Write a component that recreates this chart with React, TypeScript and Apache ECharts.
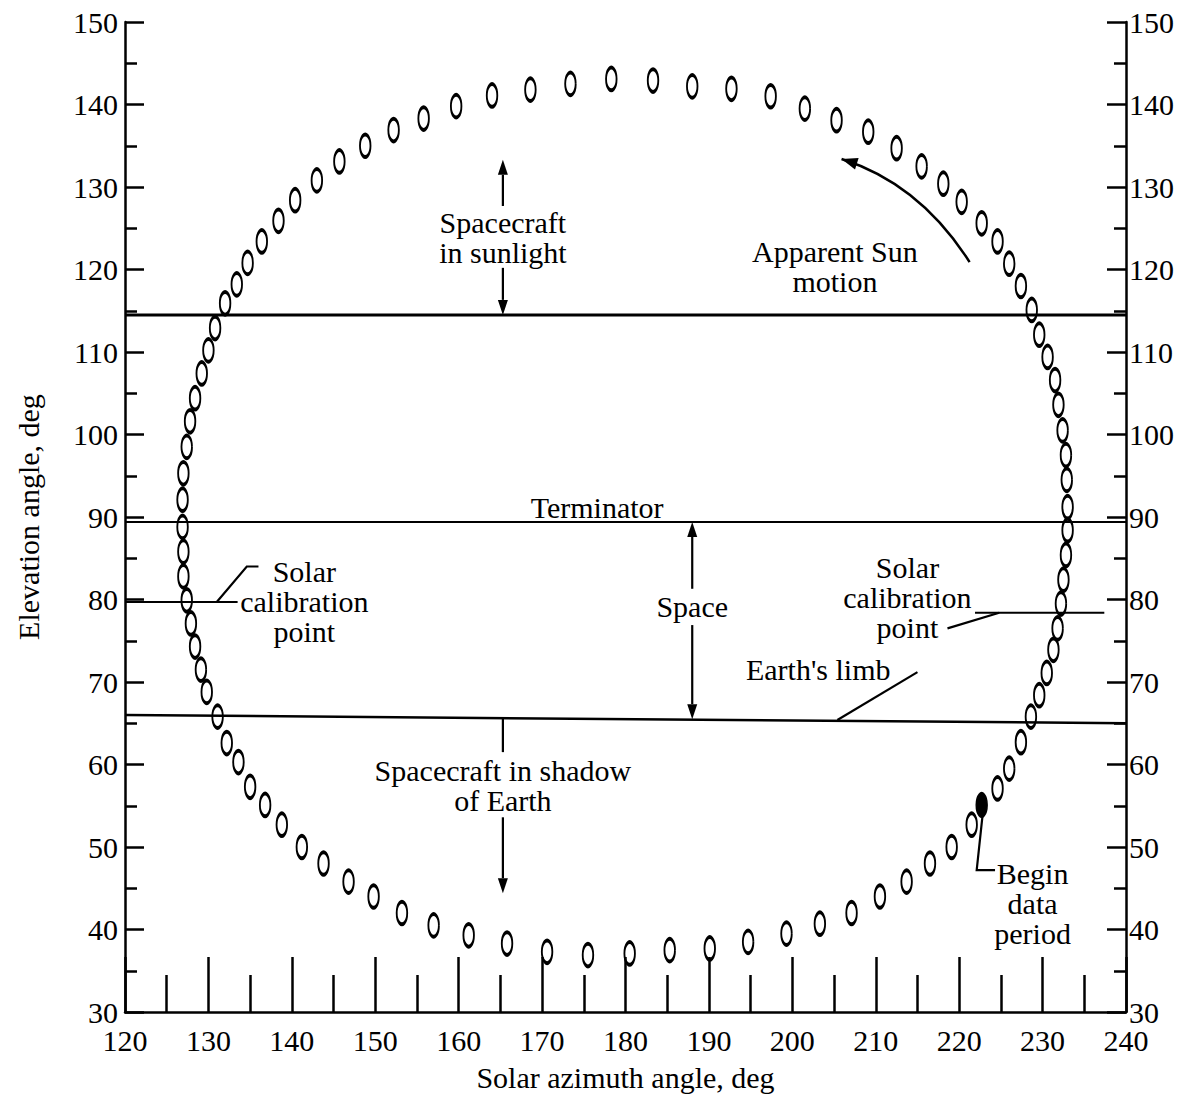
import React, { useEffect, useRef } from "react";
import * as echarts from "echarts";

// Sun image positions (solar azimuth, elevation), deg, in order of apparent motion
const azimuth = [
  224.6, 226.0, 227.4, 228.6, 229.6, 230.5, 231.3, 231.8, 232.2, 232.5,
  232.8, 233.0, 233.0, 232.9, 232.8, 232.4, 231.9, 231.5, 230.6, 229.6,
  228.7, 227.4, 226.0, 224.6, 222.7, 220.3, 218.1, 215.5, 212.5, 209.1,
  205.3, 201.5, 197.4, 192.7, 188.0, 183.3, 178.3, 173.4, 168.6, 164.0,
  159.7, 155.8, 152.2, 148.8, 145.7, 143.0, 140.4, 138.4, 136.4, 134.7,
  133.4, 132.0, 130.8, 130.0, 129.2, 128.4, 127.8, 127.4, 127.0, 126.9,
  126.9, 127.0, 127.0, 127.4, 127.9, 128.4, 129.1, 129.8, 131.1, 132.2,
  133.6, 135.0, 136.8, 138.8, 141.2, 143.8, 146.8, 149.8, 153.2, 157.0,
  161.2, 165.8, 170.6, 175.5, 180.5, 185.3, 190.1, 194.7, 199.3, 203.3,
  207.1, 210.5, 213.7, 216.5, 219.1, 221.5,
];
const elevation = [
  57.1, 59.5, 62.7, 65.8, 68.4, 71.1, 73.9, 76.5, 79.5, 82.4,
  85.4, 88.4, 91.2, 94.5, 97.5, 100.5, 103.6, 106.6, 109.4, 112.1,
  115.1, 118.0, 120.7, 123.4, 125.6, 128.2, 130.4, 132.5, 134.7, 136.7,
  138.1, 139.5, 141.0, 141.9, 142.2, 142.9, 143.1, 142.5, 141.8, 141.1,
  139.8, 138.3, 136.9, 135.0, 133.1, 130.8, 128.4, 125.9, 123.4, 120.8,
  118.2, 115.9, 112.9, 110.2, 107.4, 104.4, 101.6, 98.5, 95.3, 92.1,
  88.8, 85.8, 82.8, 79.9, 77.1, 74.3, 71.5, 68.8, 65.8, 62.6,
  60.3, 57.3, 55.1, 52.7, 50.0, 48.0, 45.8, 44.0, 42.0, 40.5,
  39.3, 38.3, 37.3, 36.9, 37.1, 37.5, 37.7, 38.5, 39.5, 40.7,
  42.0, 44.0, 45.8, 48.0, 50.0, 52.7,
];
const beginAzimuth = [222.7];
const beginElevation = [55.1];

// Reference lines (azimuth, elevation)
const sunlightBoundary = [[120, 114.5], [240, 114.5]];
const terminatorLine = [[120, 89.4], [240, 89.4]];
const earthLimbLine = [[120, 66.0], [240, 65.0]];
const calibLeftLine = [[120, 79.7], [133.5, 79.7]];
const calibRightLine = [[221.9, 78.4], [237.4, 78.4]];

const xRange = [120, 240];
const yRange = [30, 150];

const FONT = '"Liberation Serif", "Times New Roman", Times, serif';
const FS = 30;

export default function App() {
  const ref = useRef<HTMLDivElement>(null);
  useEffect(() => {
    const chart = echarts.init(ref.current!, null, { renderer: "svg" });
    const ellipses = azimuth.map((x, i) => [x, elevation[i]]);
    const begin = beginAzimuth.map((x, i) => [x, beginElevation[i]]);
    const lineSeries = (pts: number[][], width: number) => ({
      type: "line",
      data: pts,
      symbol: "none",
      silent: true,
      z: 1,
      lineStyle: { color: "#000", width },
    });
    const axisCommon = {
      type: "value",
      splitLine: { show: false },
      axisLine: { show: true, lineStyle: { color: "#000", width: 2.5 } },
    };
    chart.setOption({
      animation: false,
      backgroundColor: "#fff",
      grid: { left: 125, right: 63, top: 22, bottom: 91 },
      xAxis: {
        ...axisCommon,
        min: xRange[0],
        max: xRange[1],
        interval: 10,
        axisTick: { show: true, inside: true, length: 55, lineStyle: { color: "#000", width: 2.5 } },
        minorTick: { show: true, splitNumber: 2, length: 37, lineStyle: { color: "#000", width: 2.5 } },
        axisLabel: { color: "#000", fontSize: FS, fontFamily: FONT, margin: 16, lineHeight: 24 },
        name: "Solar azimuth angle, deg",
        nameLocation: "middle",
        nameGap: 50,
        nameTextStyle: { color: "#000", fontSize: FS, fontFamily: FONT },
      },
      yAxis: [
        {
          ...axisCommon,
          min: yRange[0],
          max: yRange[1],
          interval: 10,
          axisTick: { show: true, inside: true, length: 19, lineStyle: { color: "#000", width: 2.5 } },
          minorTick: { show: true, splitNumber: 2, length: 12, lineStyle: { color: "#000", width: 2.5 } },
          axisLabel: { color: "#000", fontSize: FS, fontFamily: FONT, margin: 7, lineHeight: 22 },
          name: "Elevation angle, deg",
          nameLocation: "middle",
          nameGap: 82,
          nameTextStyle: { color: "#000", fontSize: FS, fontFamily: FONT },
        },
        {
          ...axisCommon,
          position: "right",
          min: yRange[0],
          max: yRange[1],
          interval: 10,
          axisTick: { show: true, inside: true, length: 19, lineStyle: { color: "#000", width: 2.5 } },
          minorTick: { show: true, splitNumber: 2, length: 12, lineStyle: { color: "#000", width: 2.5 } },
          axisLabel: { color: "#000", fontSize: FS, fontFamily: FONT, margin: 3, lineHeight: 22 },
        },
      ],
      series: [
        {
          type: "scatter",
          data: ellipses,
          symbol: "circle",
          symbolSize: [10.5, 22.5],
          z: 3,
          itemStyle: { color: "rgba(255,255,255,0)", borderColor: "#000", borderWidth: 2.7, opacity: 1 },
        },
        {
          type: "scatter",
          data: begin,
          symbol: "circle",
          symbolSize: [11, 23],
          z: 4,
          itemStyle: { color: "#000", borderColor: "#000", borderWidth: 2, opacity: 1 },
        },
        lineSeries(sunlightBoundary, 3),
        lineSeries(terminatorLine, 2),
        lineSeries(earthLimbLine, 2.5),
        lineSeries(calibLeftLine, 2),
        lineSeries(calibRightLine, 2),
      ],
    });

    const px = (p: number[]) => chart.convertToPixel({ seriesIndex: 0 }, p) as number[];
    const stroke = { stroke: "#000", lineWidth: 2.2, fill: null as any };
    const els: any[] = [];
    const arrow = (from: number[], to: number[], head = 15, hw = 5) => {
      const [x1, y1] = px(from);
      const [x2, y2] = px(to);
      const dx = x2 - x1, dy = y2 - y1;
      const L = Math.hypot(dx, dy);
      const ux = dx / L, uy = dy / L;
      const bx = x2 - ux * head, by = y2 - uy * head;
      els.push({ type: "line", silent: true, shape: { x1, y1, x2: bx, y2: by }, style: { ...stroke } });
      els.push({
        type: "polygon",
        silent: true,
        shape: { points: [[x2, y2], [bx - uy * hw, by + ux * hw], [bx + uy * hw, by - ux * hw]] },
        style: { fill: "#000" },
      });
    };
    const poly = (pts: number[][]) => {
      els.push({ type: "polyline", silent: true, shape: { points: pts.map(px) }, style: { ...stroke } });
    };
    const label = (p: number[], text: string) => {
      const [x, y] = px(p);
      els.push({
        type: "text",
        silent: true,
        x,
        y,
        style: { text, fill: "#000", font: `${FS}px ${FONT}`, align: "center", verticalAlign: "middle", lineHeight: 30 },
      });
    };

    // Spacecraft in sunlight
    label([165.3, 123.9], "Spacecraft\nin sunlight");
    arrow([165.3, 127.7], [165.3, 133.3]);
    arrow([165.3, 120.2], [165.3, 114.5]);
    // Apparent sun motion
    label([205.1, 120.4], "Apparent Sun\nmotion");
    {
      const [x1, y1] = px([221.25, 120.9]);
      const [cx, cy] = px([215.3, 130.4]);
      const [x2, y2] = px([205.9, 133.4]);
      els.push({ type: "bezierCurve", silent: true, shape: { x1, y1, cpx1: cx, cpy1: cy, x2, y2 }, style: { stroke: "#000", lineWidth: 2.5, fill: null } });
      const dx = x2 - cx, dy = y2 - cy;
      const L = Math.hypot(dx, dy);
      const ux = dx / L, uy = dy / L;
      const bx = x2 - ux * 16, by = y2 - uy * 16;
      els.push({ type: "polygon", silent: true, shape: { points: [[x2, y2], [bx - uy * 6, by + ux * 6], [bx + uy * 6, by - ux * 6]] }, style: { fill: "#000" } });
    }
    // Terminator
    label([176.6, 91.1], "Terminator");
    // Space
    label([188.0, 79.1], "Space");
    arrow([188.0, 81.3], [188.0, 89.4]);
    arrow([188.0, 76.9], [188.0, 65.5]);
    // Solar calibration points
    label([141.5, 79.8], "Solar\ncalibration\npoint");
    poly([[131.0, 79.7], [134.6, 84.0], [136.0, 84.0]]);
    label([213.8, 80.2], "Solar\ncalibration\npoint");
    poly([[218.6, 76.5], [224.8, 78.4]]);
    // Earth's limb
    label([203.1, 71.5], "Earth's limb");
    poly([[205.4, 65.4], [215.0, 71.2]]);
    // Spacecraft in shadow of Earth
    label([165.3, 57.5], "Spacecraft in shadow\nof Earth");
    poly([[165.3, 65.6], [165.3, 61.5]]);
    arrow([165.3, 53.6], [165.3, 44.4]);
    // Begin data period
    label([228.8, 43.2], "Begin\ndata\nperiod");
    poly([[222.8, 53.8], [222.1, 47.2], [224.3, 47.2]]);

    chart.setOption({ graphic: els });
    return () => chart.dispose();
  }, []);
  return <div ref={ref} style={{ position: "absolute", left: 0, top: 0, width: 1189, height: 1103 }} />;
}
